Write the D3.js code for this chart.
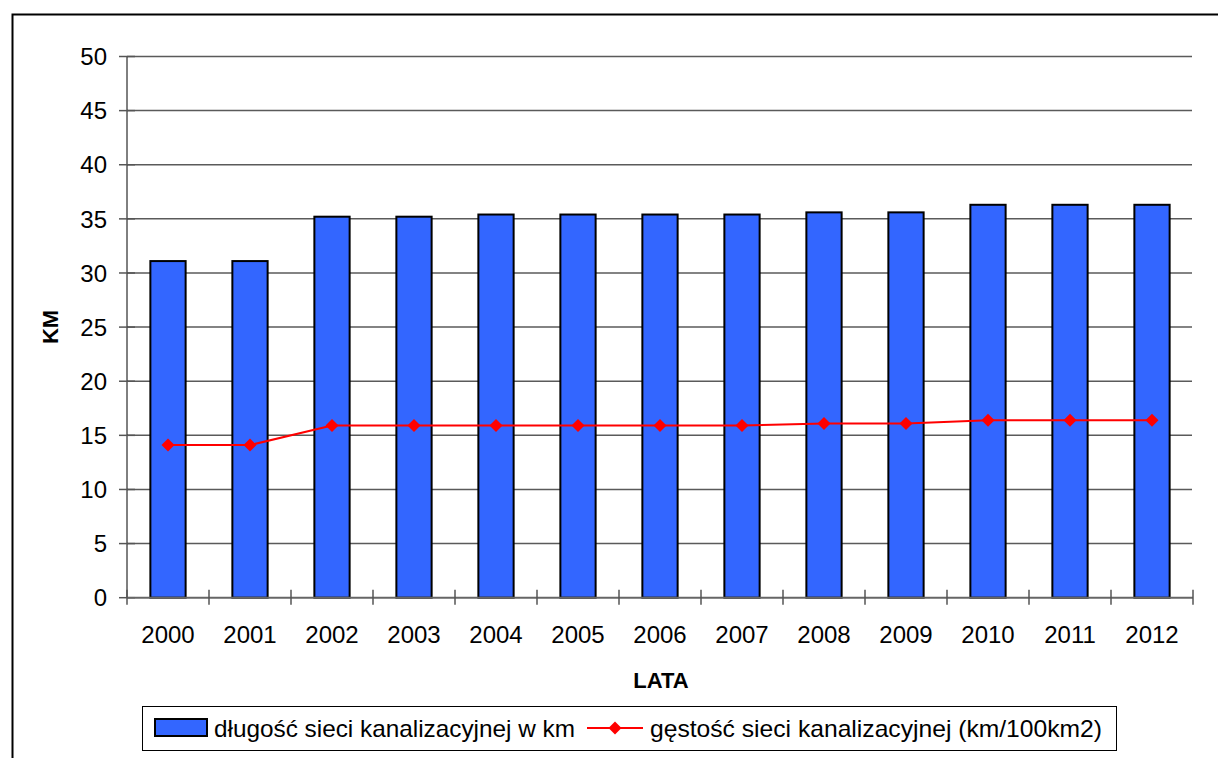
<!DOCTYPE html>
<html>
<head>
<meta charset="utf-8">
<script src="https://cdn.jsdelivr.net/npm/d3@7/dist/d3.min.js"></script>
<style>
  html, body { margin: 0; padding: 0; background: #fff; }
  svg { display: block; font-family: Arial, "Liberation Sans", sans-serif; }
</style>
</head>
<body>
<svg id="chart" width="1218" height="758"></svg>
<script>
// Sewer network: length (km) and density (km/100 km2), by year
const years = ["2000","2001","2002","2003","2004","2005","2006","2007","2008","2009","2010","2011","2012"];
const lengthKm = [31.1, 31.1, 35.2, 35.2, 35.4, 35.4, 35.4, 35.4, 35.6, 35.6, 36.3, 36.3, 36.3];
const density = [14.1, 14.1, 15.9, 15.9, 15.9, 15.9, 15.9, 15.9, 16.1, 16.1, 16.4, 16.4, 16.4];
const yTicks = [0, 5, 10, 15, 20, 25, 30, 35, 40, 45, 50];
const seriesNames = ["długość sieci kanalizacyjnej w km", "gęstość sieci kanalizacyjnej (km/100km2)"];
const axisTitles = { x: "LATA", y: "KM" };

const svg = d3.select("#chart");
const W = 1218, H = 758;
const plot = { left: 127, right: 1193, top: 56.5, bottom: 597.7 };

// outer chart frame (runs past the right and bottom edges)
svg.append("rect")
  .attr("x", 12.5).attr("y", 14.5)
  .attr("width", W + 20).attr("height", H + 20)
  .attr("fill", "none").attr("stroke", "#000").attr("stroke-width", 2);

const x = d3.scaleBand().domain(years)
  .range([plot.left, plot.right])
  .paddingInner(0.57).paddingOuter(0.285);
const idx = d3.scaleLinear().domain([0, years.length]).range([plot.left, plot.right]);
const y = d3.scaleLinear().domain([0, 50]).range([plot.bottom, plot.top]);

// horizontal gridlines
svg.append("g").selectAll("line").data(yTicks.filter(t => t > 0)).join("line")
  .attr("x1", plot.left).attr("x2", plot.right - 1)
  .attr("y1", d => y(d)).attr("y2", d => y(d))
  .attr("stroke", "#5a5a5a").attr("stroke-width", 1.5);

// y axis: line, crossing ticks, labels
svg.append("line")
  .attr("x1", plot.left).attr("x2", plot.left)
  .attr("y1", plot.top).attr("y2", plot.bottom)
  .attr("stroke", "#000").attr("stroke-width", 1);
svg.append("g").selectAll("line").data(yTicks).join("line")
  .attr("x1", plot.left - 8).attr("x2", plot.left + 8)
  .attr("y1", d => y(d)).attr("y2", d => y(d))
  .attr("stroke", "#555").attr("stroke-width", 1.5);
svg.append("g").selectAll("text").data(yTicks).join("text")
  .attr("x", 107).attr("y", d => y(d))
  .attr("dy", "0.36em")
  .attr("text-anchor", "end")
  .attr("font-size", 24)
  .attr("fill", "#000")
  .text(d => d);

// bars
svg.append("g").selectAll("rect").data(years).join("rect")
  .attr("x", d => x(d))
  .attr("width", x.bandwidth())
  .attr("y", (d, i) => y(lengthKm[i]))
  .attr("height", (d, i) => y(0) - y(lengthKm[i]))
  .attr("fill", "#3366FF")
  .attr("stroke", "#000").attr("stroke-width", 2);

// x axis line and crossing ticks at category boundaries
svg.append("line")
  .attr("x1", plot.left).attr("x2", plot.right)
  .attr("y1", plot.bottom).attr("y2", plot.bottom)
  .attr("stroke", "#666").attr("stroke-width", 2);
svg.append("g").selectAll("line").data(d3.range(years.length + 1)).join("line")
  .attr("x1", d => idx(d)).attr("x2", d => idx(d))
  .attr("y1", plot.bottom - 8).attr("y2", plot.bottom + 7)
  .attr("stroke", "#555").attr("stroke-width", 1.5);
svg.append("g").selectAll("text").data(years).join("text")
  .attr("x", d => x(d) + x.bandwidth() / 2)
  .attr("y", 643)
  .attr("text-anchor", "middle")
  .attr("font-size", 24)
  .attr("fill", "#000")
  .text(d => d);

// density line with diamond markers
const cx = d => x(d) + x.bandwidth() / 2;
svg.append("path")
  .datum(years)
  .attr("fill", "none").attr("stroke", "#FF0000").attr("stroke-width", 2)
  .attr("d", d3.line().x(d => cx(d)).y((d, i) => y(density[i])));
const r = 6.5;
const diamond = `M0,${-r}L${r},0L0,${r}L${-r},0Z`;
svg.append("g").selectAll("path").data(years).join("path")
  .attr("transform", (d, i) => `translate(${cx(d)},${y(density[i])})`)
  .attr("d", diamond)
  .attr("fill", "#FF0000");

// axis titles
svg.append("text")
  .attr("transform", "translate(58,327) rotate(-90)")
  .attr("text-anchor", "middle")
  .attr("font-size", 22).attr("font-weight", "bold")
  .text(axisTitles.y);
svg.append("text")
  .attr("x", 661).attr("y", 688)
  .attr("text-anchor", "middle")
  .attr("font-size", 22).attr("font-weight", "bold")
  .text(axisTitles.x);

// legend
const lg = svg.append("g");
lg.append("rect")
  .attr("x", 142.5).attr("y", 706.5).attr("width", 974).attr("height", 44)
  .attr("fill", "#fff").attr("stroke", "#000").attr("stroke-width", 1);
lg.append("rect")
  .attr("x", 155).attr("y", 719).attr("width", 52).attr("height", 17)
  .attr("fill", "#3366FF").attr("stroke", "#000").attr("stroke-width", 2);
lg.append("text")
  .attr("x", 214).attr("y", 737)
  .attr("font-size", 24)
  .attr("textLength", 361).attr("lengthAdjust", "spacingAndGlyphs")
  .text(seriesNames[0]);
lg.append("line")
  .attr("x1", 587).attr("x2", 643).attr("y1", 728).attr("y2", 728)
  .attr("stroke", "#FF0000").attr("stroke-width", 2);
lg.append("path")
  .attr("transform", "translate(615,728)")
  .attr("d", diamond)
  .attr("fill", "#FF0000");
lg.append("text")
  .attr("x", 650).attr("y", 737)
  .attr("font-size", 24)
  .attr("textLength", 452).attr("lengthAdjust", "spacingAndGlyphs")
  .text(seriesNames[1]);
</script>
</body>
</html>
